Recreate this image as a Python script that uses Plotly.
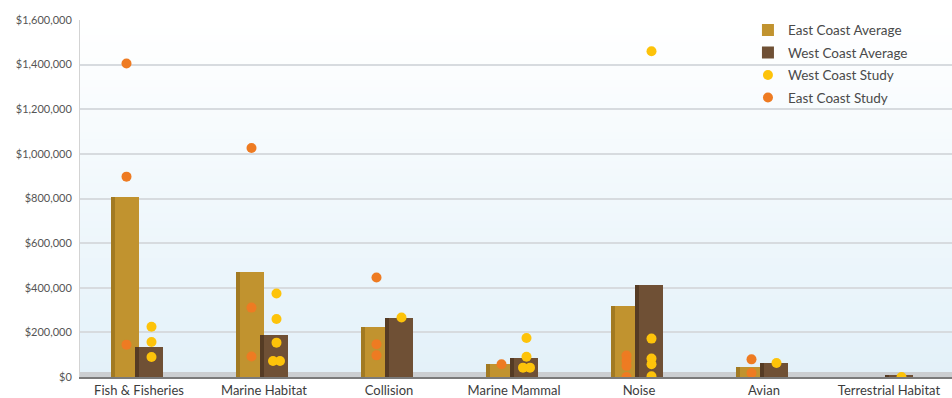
import plotly.graph_objects as go

# Cost categories along the x axis
categories = ["Fish & Fisheries", "Marine Habitat", "Collision", "Marine Mammal",
              "Noise", "Avian", "Terrestrial Habitat"]

# Average cost per category (US$)
east_coast_average = [805000, 470000, 225000, 57000, 316000, 44000, 0]
west_coast_average = [136000, 187000, 264000, 85000, 414000, 62000, 10000]

# Individual study results: category index and cost (US$)
west_study_cat = [0, 0, 0, 1, 1, 1, 1, 1, 2, 3, 3, 3, 3, 4, 4, 4, 4, 4, 5, 6]
west_study_val = [225000, 157000, 90000, 374000, 260000, 154000, 72000, 72000,
                  267000, 175000, 91000, 42000, 42000, 1460000, 172000, 83000,
                  57000, 3000, 63000, 0]

east_study_cat = [0, 0, 0, 1, 1, 1, 2, 2, 2, 3, 4, 4, 4, 4, 5, 5]
east_study_val = [1405000, 898000, 145000, 1026000, 311000, 92000, 446000,
                  147000, 97000, 57000, 96000, 73000, 50000, 0, 79000, 18000]

tick_values = [0, 200000, 400000, 600000, 800000, 1000000, 1200000, 1400000, 1600000]

FONT = "Lato"
GOLD, GOLD_SIDE = "#c1932f", "#a27a22"
BROWN, BROWN_SIDE = "#6f5035", "#553b24"
ORANGE, YELLOW = "#ee7b22", "#fdc30a"

x_idx = list(range(len(categories)))


def spread(cats, vals, centre):
    """x positions for dots; dots with equal cost in a category sit side by side."""
    xs = []
    for i, (c, v) in enumerate(zip(cats, vals)):
        twins = [j for j, (c2, v2) in enumerate(zip(cats, vals))
                 if c2 == c and abs(v2 - v) < 10000]
        if len(twins) > 1:
            k = twins.index(i)
            xs.append(c + centre + (k - (len(twins) - 1) / 2) * 0.056)
        else:
            xs.append(c + centre)
    return xs


fig = go.Figure()

# Bars drawn as a darker side face plus a front face for a boxed look
bar_specs = [
    (east_coast_average, "East Coast Average", GOLD, GOLD_SIDE, -0.224),
    (west_coast_average, "West Coast Average", BROWN, BROWN_SIDE, -0.032),
]
for vals, name, front, side, start in bar_specs:
    fig.add_trace(go.Bar(x=x_idx, y=vals, offset=start, width=0.036,
                         marker=dict(color=side, line=dict(width=0)),
                         showlegend=False, hoverinfo="skip", legendgroup=name))
    fig.add_trace(go.Bar(x=x_idx, y=vals, offset=start + 0.032, width=0.192,
                         marker=dict(color=front, line=dict(width=0)),
                         name=name, legendgroup=name))

fig.add_trace(go.Scatter(x=spread(west_study_cat, west_study_val, 0.1),
                         y=west_study_val, mode="markers", name="West Coast Study",
                         marker=dict(color=YELLOW, size=10), legendgroup="wcs"))
fig.add_trace(go.Scatter(x=spread(east_study_cat, east_study_val, -0.1),
                         y=east_study_val, mode="markers", name="East Coast Study",
                         marker=dict(color=ORANGE, size=10), legendgroup="ecs"))

# Soft white-to-blue backdrop inside the plotting area
shapes = []
n_bands = 48
top_rgb, bot_rgb = (255, 255, 255), (227, 241, 249)
for i in range(n_bands):
    t = i / (n_bands - 1)
    r, g, b = [round(bot_rgb[k] + (top_rgb[k] - bot_rgb[k]) * t) for k in range(3)]
    shapes.append(dict(type="rect", xref="x domain", yref="y domain",
                       x0=0, x1=1, y0=i / n_bands, y1=(i + 1) / n_bands + 0.002,
                       fillcolor=f"rgb({r},{g},{b})", line=dict(width=0), layer="below"))
# Grey floor strip under the bars
shapes.append(dict(type="rect", xref="x domain", yref="y", x0=0, x1=1,
                   y0=0, y1=22000, fillcolor="#cbced1", line=dict(width=0),
                   layer="below"))

fig.update_layout(
    width=952, height=398,
    margin=dict(l=80, r=0, t=20, b=21),
    paper_bgcolor="white", plot_bgcolor="rgba(0,0,0,0)",
    barmode="overlay", bargap=0,
    shapes=shapes,
    showlegend=True,
    legend=dict(x=0.766, y=1.015, xanchor="left", yanchor="top",
                bgcolor="rgba(0,0,0,0)", tracegroupgap=2,
                font=dict(family=FONT, size=13.5, color="#4a4a4a"),
                traceorder="grouped"),
    font=dict(family=FONT, color="#444444"),
)
fig.update_xaxes(range=[-0.472, 6.504], tickvals=x_idx, ticktext=categories,
                 showgrid=False, zeroline=False, ticks="",
                 showline=True, linecolor="#7a7a7a", linewidth=2,
                 tickfont=dict(family=FONT, size=13, color="#3c3c3c"))
fig.update_yaxes(range=[0, 1600000], tickvals=tick_values,
                 tickformat="$,d", showgrid=True, gridcolor="#d7dbdf", gridwidth=1.5,
                 zeroline=False, ticks="outside", ticklen=5,
                 tickcolor="rgba(0,0,0,0)", showline=True, linecolor="#d3d3d3",
                 linewidth=1, tickfont=dict(family=FONT, size=11, color="#555555"))

fig.write_html("out.html")
